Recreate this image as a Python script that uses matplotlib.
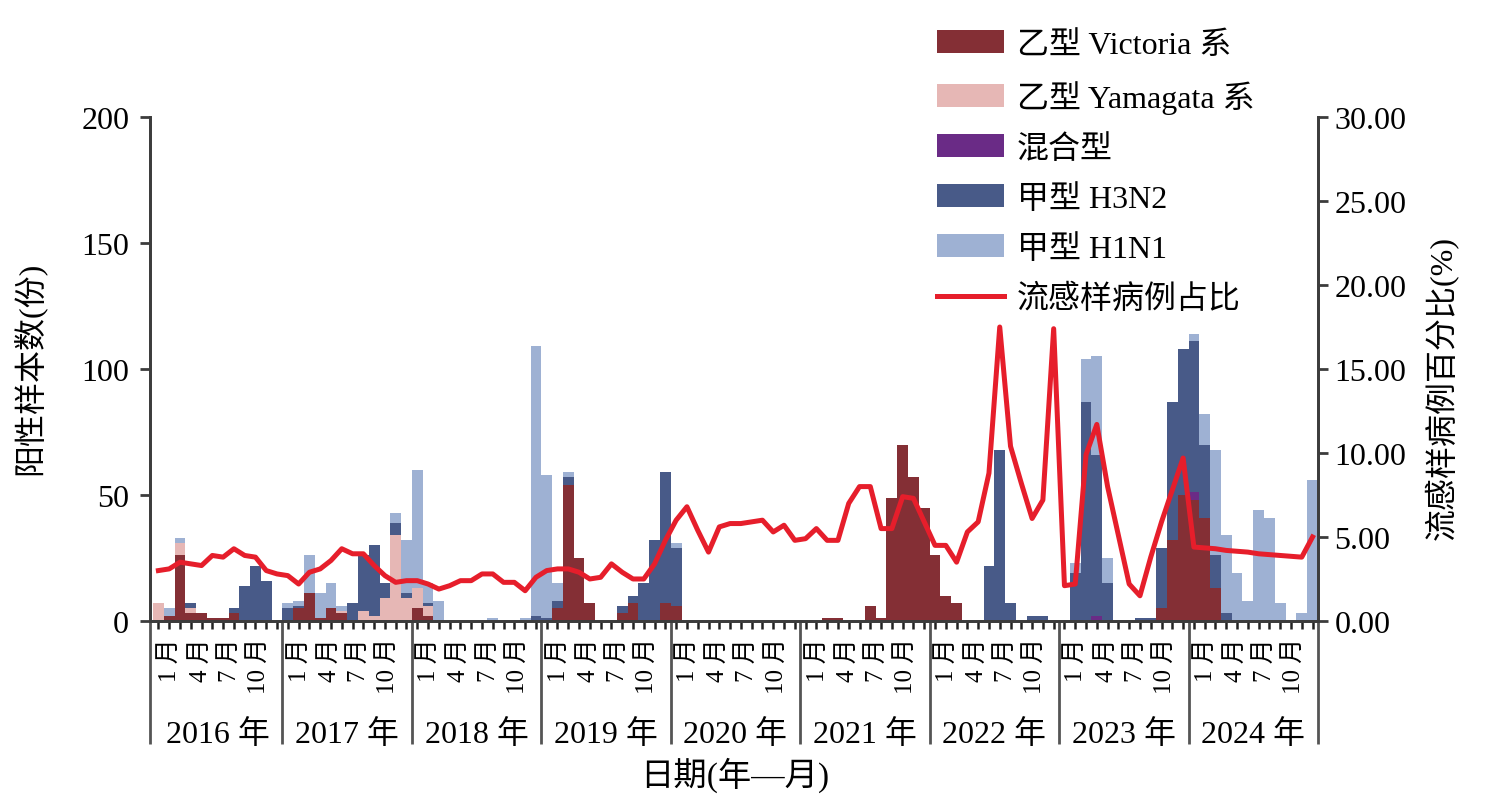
import numpy as np
import matplotlib
matplotlib.use("Agg")
import matplotlib.pyplot as plt
from matplotlib.transforms import blended_transform_factory

plt.rcParams['font.family'] = ['Liberation Serif', 'Noto Sans CJK SC', 'DejaVu Sans']

years = ['2016 年', '2017 年', '2018 年', '2019 年', '2020 年',
         '2021 年', '2022 年', '2023 年', '2024 年']
month_labels = ['1 月', '4 月', '7 月', '10 月']

# positive samples per month, Jan 2016 .. Dec 2024 (one row per year)
victoria = [0, 2, 26, 3, 3, 1, 1, 3, 0, 0, 0, 0,
            0, 5, 11, 1, 5, 3, 0, 0, 0, 0, 0, 0,
            5, 2, 0, 0, 0, 0, 0, 0, 0, 0, 0, 0,
            0, 5, 54, 25, 7, 0, 0, 3, 7, 0, 0, 7,
            6, 0, 0, 0, 0, 0, 0, 0, 0, 0, 0, 0,
            0, 0, 1, 1, 0, 0, 6, 1, 49, 70, 57, 45,
            26, 10, 7, 0, 0, 0, 0, 0, 0, 0, 0, 0,
            0, 0, 0, 0, 0, 0, 0, 0, 0, 5, 32, 50,
            48, 41, 13, 0, 0, 0, 0, 0, 0, 0, 0, 0]
yamagata = [7, 0, 5, 2, 0, 0, 0, 0, 0, 0, 0, 0,
            0, 0, 0, 0, 0, 1, 0, 4, 2, 9, 34, 9,
            8, 4, 0, 0, 0, 0, 0, 0, 0, 0, 0, 0,
            0, 0, 0, 0, 0, 0, 0, 0, 0, 0, 0, 0,
            0, 0, 0, 0, 0, 0, 0, 0, 0, 0, 0, 0,
            0, 0, 0, 0, 0, 0, 0, 0, 0, 0, 0, 0,
            0, 0, 0, 0, 0, 0, 0, 0, 0, 0, 0, 0,
            0, 0, 0, 0, 0, 0, 0, 0, 0, 0, 0, 0,
            0, 0, 0, 0, 0, 0, 0, 0, 0, 0, 0, 0]
mixed = [0] * 87 + [2] + [0] * 8 + [3] + [0] * 11
h3n2 = [0, 0, 0, 2, 0, 0, 0, 2, 14, 22, 16, 0,
        5, 1, 0, 0, 0, 0, 7, 22, 28, 6, 5, 2,
        0, 1, 0, 0, 0, 0, 0, 0, 0, 0, 0, 2,
        1, 3, 3, 0, 0, 0, 0, 3, 3, 15, 32, 52,
        23, 0, 0, 0, 0, 0, 0, 0, 0, 0, 0, 0,
        0, 0, 0, 0, 0, 0, 0, 0, 0, 0, 0, 0,
        0, 0, 0, 0, 0, 22, 68, 7, 0, 2, 2, 0,
        0, 19, 87, 64, 15, 0, 0, 1, 1, 24, 55, 58,
        60, 29, 13, 3, 0, 0, 0, 0, 0, 0, 0, 0]
h1n1 = [0, 3, 2, 0, 0, 0, 0, 0, 0, 0, 0, 0,
        2, 2, 15, 10, 10, 2, 0, 0, 0, 0, 4, 21,
        47, 8, 8, 0, 0, 0, 0, 1, 0, 0, 1, 107,
        57, 7, 2, 0, 0, 0, 0, 0, 0, 0, 0, 0,
        2, 0, 0, 0, 0, 0, 0, 0, 0, 0, 0, 0,
        0, 0, 0, 0, 0, 0, 0, 0, 0, 0, 0, 0,
        0, 0, 0, 0, 0, 0, 0, 0, 0, 0, 0, 0,
        0, 4, 17, 39, 10, 0, 0, 0, 0, 0, 0, 0,
        3, 12, 42, 31, 19, 8, 44, 41, 7, 0, 3, 56]
# influenza-like illness share (%)
ili_pct = [3.0, 3.1, 3.5, 3.4, 3.3, 3.9, 3.8, 4.3, 3.9, 3.8, 3.0, 2.8,
           2.7, 2.2, 2.9, 3.1, 3.6, 4.3, 4.0, 4.0, 3.3, 2.7, 2.3, 2.4,
           2.4, 2.2, 1.9, 2.1, 2.4, 2.4, 2.8, 2.8, 2.3, 2.3, 1.8, 2.6,
           3.0, 3.1, 3.1, 2.9, 2.5, 2.6, 3.4, 2.9, 2.5, 2.5, 3.4, 4.8,
           6.0, 6.8, 5.4, 4.1, 5.6, 5.8, 5.8, 5.9, 6.0, 5.3, 5.7, 4.8,
           4.9, 5.5, 4.8, 4.8, 7.0, 8.0, 8.0, 5.5, 5.5, 7.4, 7.3, 5.9,
           4.5, 4.5, 3.5, 5.3, 5.9, 8.8, 17.5, 10.4, 8.2, 6.1, 7.2, 17.4,
           2.1, 2.2, 9.9, 11.7, 8.0, 5.1, 2.2, 1.5, 3.8, 5.9, 7.8, 9.7,
           4.4, 4.35, 4.3, 4.2, 4.15, 4.1, 4.0, 3.95, 3.9, 3.85, 3.8, 5.0]

series = [('乙型 Victoria 系', victoria, '#842f35'),
          ('乙型 Yamagata 系', yamagata, '#e6b7b5'),
          ('混合型', mixed, '#6a2b86'),
          ('甲型 H3N2', h3n2, '#485a88'),
          ('甲型 H1N1', h1n1, '#9eb1d3')]

fig = plt.figure(figsize=(14.85, 8.04), dpi=100)
ax = fig.add_axes([0.101, 0.2264, 0.7865, 0.6268])
ax2 = ax.twinx()

x = np.arange(len(ili_pct))
bottom = np.zeros(len(x))
handles = []
for name, vals, col in series:
    vals = np.array(vals, dtype=float)
    b = ax.bar(x, vals, width=1.0, bottom=bottom, color=col, linewidth=0, label=name)
    handles.append(b)
    bottom += vals

line, = ax2.plot(x, ili_pct, color='#e61e2b', lw=3.6, label='流感样病例占比',
                 solid_joinstyle='round')
handles.append(line)

ax.set_xlim(-0.78, 107.5)
ax.set_ylim(0, 200)
ax2.set_ylim(0, 30)
ax.set_yticks([0, 50, 100, 150, 200])
ax2.set_yticks([0, 5, 10, 15, 20, 25, 30])
ax2.set_yticklabels(['%.2f' % v for v in [0, 5, 10, 15, 20, 25, 30]])

spine_col = '#3c3c3c'
for a in (ax, ax2):
    a.spines['top'].set_visible(False)
    for s in ('left', 'right', 'bottom'):
        a.spines[s].set_color(spine_col)
        a.spines[s].set_linewidth(2.0)
ax.tick_params(axis='y', labelsize=23, length=7, width=2, color=spine_col, pad=8)
ax2.tick_params(axis='y', labelsize=23, length=7, width=2, color=spine_col, pad=5)
ax.set_xticks(x)
ax.set_xticklabels([])
ax.tick_params(axis='x', length=6, width=1.8, color='#222222')

# month / year labels under the axis
trans = blended_transform_factory(ax.transData, ax.transAxes)
offsets = [1.6, 4.4, 7.1, 9.8]
for k, yr in enumerate(years):
    start = 12 * k - 0.5
    for off, lab in zip(offsets, month_labels):
        ax.text(start + off, -0.032, lab, transform=trans, rotation=90,
                ha='center', va='top', fontsize=18)
    ax.text(start + 6, -0.224, yr, transform=trans, ha='center', va='center', fontsize=23)
edges = [-0.78] + [12 * k - 0.5 for k in range(1, 9)] + [107.5]
for e in edges:
    ax.plot([e, e], [0, -0.244], transform=trans, color='#555555', lw=2.0,
            clip_on=False, solid_capstyle='butt')

fig.text(0.495, 0.036, '日期(年—月)', ha='center', va='center', fontsize=24)
fig.text(0.020, 0.542, '阳性样本数(份)', rotation=90, ha='center', va='center', fontsize=23)
fig.text(0.971, 0.517, '流感样病例百分比(%)', rotation=90, ha='center', va='center', fontsize=23)

fig.legend(handles=handles, labels=[h.get_label() for h in handles],
           loc='upper left', bbox_to_anchor=(0.631, 0.961), frameon=False,
           fontsize=23, handlelength=2.1, handleheight=0.7, handletextpad=0.4,
           labelspacing=0.63, borderpad=0, borderaxespad=0)

fig.savefig('out.png', dpi=100)
